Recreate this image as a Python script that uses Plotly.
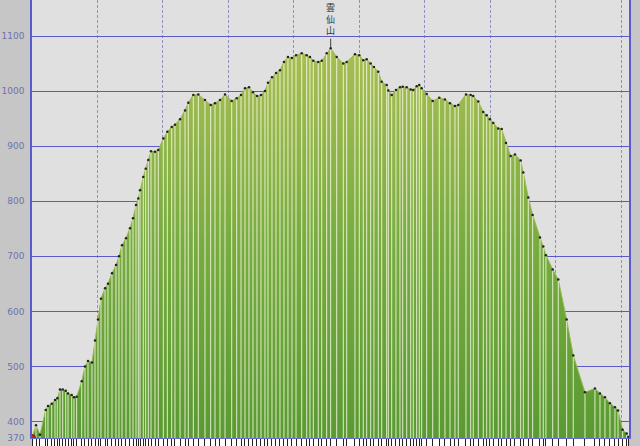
import plotly.graph_objects as go

# ---- Data: distance (km) and elevation (m) ----
dist_km = [
    0.000, 0.061, 0.122, 0.209, 0.244, 0.301, 0.351, 0.386, 0.427, 0.469,
    0.515, 0.550, 0.606, 0.641, 0.682, 0.759, 0.809, 0.855, 0.916, 0.962,
    1.008, 1.053, 1.115, 1.160, 1.221, 1.282, 1.328, 1.374, 1.435, 1.496,
    1.542, 1.588, 1.623, 1.649, 1.699, 1.736, 1.776, 1.817, 1.878, 1.928,
    2.005, 2.066, 2.133, 2.183, 2.260, 2.336, 2.386, 2.463, 2.539, 2.641,
    2.728, 2.794, 2.870, 2.947, 3.049, 3.125, 3.191, 3.252, 3.313, 3.374,
    3.435, 3.496, 3.557, 3.603, 3.664, 3.725, 3.786, 3.847, 3.908, 3.969,
    4.031, 4.118, 4.194, 4.244, 4.295, 4.371, 4.423, 4.499, 4.560, 4.652,
    4.753, 4.805, 4.931, 4.997, 5.058, 5.110, 5.171, 5.221, 5.287, 5.339,
    5.415, 5.440, 5.492, 5.557, 5.618, 5.660, 5.721, 5.782, 5.821, 5.873,
    5.913, 5.950, 6.026, 6.118, 6.218, 6.305, 6.382, 6.458, 6.508, 6.626,
    6.698, 6.737, 6.814, 6.890, 6.942, 6.992, 7.043, 7.119, 7.171, 7.237,
    7.308, 7.374, 7.461, 7.501, 7.577, 7.644, 7.756, 7.806, 7.847, 7.950,
    8.035, 8.163, 8.264, 8.443, 8.595, 8.672, 8.748, 8.824, 8.901, 8.947,
    9.018, 9.079, 9.107,
]
elev_m = [
    370, 393, 376, 421, 428, 432, 439, 442, 458, 458,
    456, 451, 448, 444, 445, 473, 500, 510, 507, 547,
    585, 623, 642, 650, 669, 684, 700, 720, 733, 751,
    769, 793, 805, 820, 844, 859, 875, 891, 890, 893,
    914, 926, 935, 939, 949, 965, 979, 993, 994, 984,
    975, 978, 984, 994, 982, 987, 993, 1005, 1007, 998,
    991, 993, 1000, 1015, 1025, 1033, 1038, 1053, 1062, 1060,
    1065, 1069, 1065, 1062, 1055, 1053, 1055, 1069, 1078, 1062,
    1050, 1053, 1067, 1065, 1056, 1058, 1050, 1044, 1035, 1017,
    1011, 1001, 993, 1002, 1007, 1008, 1007, 1003, 1002, 1009,
    1011, 1005, 995, 982, 988, 985, 978, 973, 975, 994,
    993, 991, 981, 962, 956, 949, 942, 932, 931, 906,
    882, 885, 874, 852, 807, 775, 734, 718, 702, 676,
    658, 585, 520, 453, 460, 451, 444, 433, 426, 420,
    385, 378, 372,
]
y_ticks = [370, 400, 500, 600, 700, 800, 900, 1000, 1100]
peak_name = "雲仙山"
base = 370

fig = go.Figure()

# ---- Gevuld profiel met verloop ----
fig.add_trace(go.Scatter(
    x=dist_km, y=elev_m,
    mode="lines",
    line=dict(color="#9ab84c", width=1),
    fill="tozeroy",
    fillgradient=dict(
        type="vertical",
        colorscale=[[0, "#5a9a32"], [0.5, "#78ac40"], [1, "#a8be54"]],
        start=base, stop=1080,
    ),
    hoverinfo="skip",
))

# ---- Witte verticale lijnen per punt ----
sx, sy = [], []
for d, e in zip(dist_km, elev_m):
    sx += [d, d, None]
    sy += [base, e, None]
fig.add_trace(go.Scatter(
    x=sx, y=sy, mode="lines",
    line=dict(color="rgba(255,255,240,0.8)", width=1),
    hoverinfo="skip",
))

# ---- Zwarte puntjes ----
fig.add_trace(go.Scatter(
    x=dist_km, y=elev_m, mode="markers",
    marker=dict(size=2.5, color="#222222"),
    hovertemplate="%{x:.2f} km: %{y} m<extra></extra>",
))

# ---- Startpunt ----
fig.add_trace(go.Scatter(
    x=[dist_km[0]], y=[elev_m[0]], mode="markers",
    marker=dict(size=7, color="#d02010", line=dict(color="#702010", width=1)),
    hoverinfo="skip",
))

# ---- Label top ----
i_peak = elev_m.index(max(elev_m))
fig.add_annotation(
    x=dist_km[i_peak], y=elev_m[i_peak],
    text="<br>".join(peak_name),
    showarrow=True, arrowhead=0, arrowwidth=1, arrowcolor="#444444",
    ax=0, ay=-29, standoff=1,
    font=dict(size=9, color="#333333", family="Noto Sans CJK JP"),
)

# ---- Witte strook onderaan ----
fig.add_shape(
    type="rect", xref="paper", yref="paper",
    x0=0, x1=1, y0=-8 / 438, y1=0,
    fillcolor="white", line=dict(width=0), layer="below",
)

fig.update_xaxes(
    range=[0, 9.115],
    dtick=1, tick0=0,
    showgrid=True, gridcolor="#9090c4", griddash="3px,2px", gridwidth=1,
    showticklabels=False, ticks="",
    minor=dict(tickmode="array", tickvals=dist_km, ticks="outside",
               ticklen=7, tickwidth=1, tickcolor="#222222", showgrid=False),
    showline=True, linecolor="#6a6ad0", linewidth=1,
    zeroline=False,
)
fig.update_yaxes(
    range=[base, 1165.5],
    tickvals=y_ticks,
    showgrid=True, gridcolor="#5a5ac8", gridwidth=1,
    ticks="", ticklabelstandoff=4,
    tickfont=dict(size=9, color="#7070ae", family="DejaVu Sans"),
    showline=True, linecolor="#5a5ad0", linewidth=1.5, mirror=True,
    zeroline=False,
)

fig.update_layout(
    width=640, height=446,
    margin=dict(l=32, r=11, t=0, b=8),
    paper_bgcolor="#c6c6c6",
    plot_bgcolor="#e0e0e0",
    showlegend=False,
)

# body-marge van de pagina weghalen, geen modebar
fig.write_html("out.html", config={"displayModeBar": False},
               post_script="document.body.style.margin='0';")
